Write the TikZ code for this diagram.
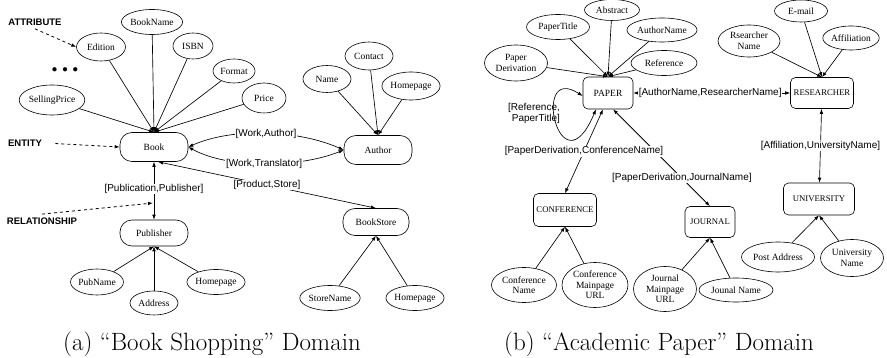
\documentclass[tikz,border=0pt]{standalone}
\usepackage{fontspec}
\newfontfamily\serfont{Liberation Serif}
\newfontfamily\labfont{Liberation Sans}
\usetikzlibrary{arrows.meta, shapes.geometric, positioning}

\begin{document}
\begin{tikzpicture}[x=1pt, y=-1pt,
  attr/.style 2 args={draw, ellipse, inner sep=0pt, align=center, line width=0.6pt,
    minimum width=#1, minimum height=#2, font=\serfont\fontsize{9.5}{10.5}\selectfont},
  entity/.style={draw, rounded corners=12pt, inner sep=0pt, line width=0.6pt,
    minimum width=68pt, font=\serfont\fontsize{9.5}{10.5}\selectfont},
  entbox/.style 2 args={draw, rounded corners=5pt, inner sep=0pt, line width=0.6pt,
    minimum width=#1, minimum height=#2, font=\serfont\fontsize{8.7}{10}\selectfont},
  link/.style={-{Latex[length=5pt,width=3.6pt]}, line width=0.65pt},
  rel/.style={{Latex[length=5pt,width=3.6pt]}-{Latex[length=5pt,width=3.6pt]}, line width=0.65pt},
  rellab/.style={fill=white, inner sep=0.6pt, font=\labfont\fontsize{10}{11}\selectfont, align=center},
  notelab/.style={font=\labfont\bfseries\fontsize{9.5}{10}\selectfont},
  pointer/.style={dashed, -{Latex[length=5pt,width=3.6pt]}, line width=0.8pt}
]
  \useasboundingbox (0,0) rectangle (887,358);

  % (a) book shopping: entities
  \node[entity, minimum height=29pt] (book) at (154,147) {Book};
  \node[entity, minimum height=29pt] (author) at (378,150) {Author};
  \node[entity, minimum height=26pt] (publisher) at (154,233) {Publisher};
  \node[entity, minimum width=66pt, minimum height=27pt] (bookstore) at (376,222) {BookStore};

  % attributes of Book
  \node[attr={49pt}{28pt}] (edition) at (101,47) {Edition};
  \node[attr={52pt}{25pt}] (bookname) at (152,22) {BookName};
  \node[attr={40pt}{26pt}] (isbn) at (193,46) {ISBN};
  \node[attr={42pt}{24pt}] (format) at (234,71) {Format};
  \node[attr={44pt}{30pt}] (price) at (264,98) {Price};
  \node[attr={51pt}{30pt}] (sellprice) at (52,100) {SellingPrice};
  \node[font=\fontsize{11}{12}\selectfont] (dots) at (65,70) {$\bullet$\hspace{5pt}$\bullet$\hspace{5pt}$\bullet$};
  \foreach \a in {edition, bookname, isbn, format, price, sellprice}
    \draw[link] (\a) -- (book.north);

  % attributes of Author
  \node[attr={48pt}{27pt}] (name) at (327,79) {Name};
  \node[attr={48pt}{28pt}] (contact) at (369,56) {Contact};
  \node[attr={51pt}{28pt}] (authhome) at (411,86) {Homepage};
  \foreach \a in {name, contact, authhome}
    \draw[link] (\a) -- (author.north);

  % attributes of Publisher
  \node[attr={44pt}{26pt}] (pubname) at (97,282) {PubName};
  \node[attr={48pt}{24pt}] (address) at (154,303) {Address};
  \node[attr={51pt}{25pt}] (pubhome) at (216,282) {Homepage};
  \foreach \a in {pubname, address, pubhome}
    \draw[link] (\a) -- (publisher.south);

  % attributes of BookStore
  \node[attr={48pt}{25pt}] (storename) at (330,298) {StoreName};
  \node[attr={47pt}{25pt}] (storehome) at (415,298) {Homepage};
  \foreach \a in {storename, storehome}
    \draw[link] (\a) -- (bookstore.south);

  % relationships
  \draw[rel] (book.east) .. controls +(45,-20) and +(-45,-20) .. (author.west)
    node[rellab, pos=0.5] {[Work,Author]};
  \draw[rel] (book.east) .. controls +(40,22) and +(-45,18) .. (author.west)
    node[rellab, pos=0.5] {[Work,Translator]};
  \draw[rel] ([xshift=4pt]book.south) -- (bookstore.north)
    node[rellab, pos=0.5] {[Product,Store]};
  \draw[rel] (book.south) -- (publisher.north)
    node[rellab, pos=0.47] {[Publication,Publisher]};
  \coordinate (relpt) at (153,203);

  % legend
  \node[notelab] (attrnote) at (35,22) {ATTRIBUTE};
  \node[notelab] (entnote) at (25,143) {ENTITY};
  \node[notelab] (relnote) at (42,221) {RELATIONSHIP};
  \draw[pointer] (attrnote.south) -- (edition.west);
  \draw[pointer, shorten <=10pt] (entnote.east) -- (book.west);
  \draw[pointer] (relnote.north) -- (relpt);

  % (b) academic paper: entities
  \node[entbox={50pt}{32pt}, font=\serfont\fontsize{9.5}{10}\selectfont] (paper) at (608,93) {PAPER};
  \node[entbox={63pt}{31pt}] (researcher) at (822,93) {RESEARCHER};
  \node[entbox={71pt}{32pt}] (university) at (819,199) {UNIVERSITY};
  \node[entbox={63pt}{33pt}] (conference) at (565,210) {CONFERENCE};
  \node[entbox={50pt}{31pt}] (journal) at (710,222) {JOURNAL};

  % attributes of PAPER
  \node[attr={55pt}{21pt}] (abstract) at (612,10) {Abstract};
  \node[attr={63pt}{25pt}] (papertitle) at (558,27) {PaperTitle};
  \node[attr={68pt}{24pt}] (authorname) at (662,30) {AuthorName};
  \node[attr={63pt}{36pt}] (paperderiv) at (516,63) {Paper\\Derivation};
  \node[attr={66pt}{25pt}] (reference) at (664,63) {Reference};
  \foreach \a in {abstract, papertitle, authorname, paperderiv, reference}
    \draw[link] (\a) -- (paper.north);

  % attributes of RESEARCHER
  \node[attr={62pt}{32pt}] (rname) at (749,41) {Rsearcher\\Name};
  \node[attr={53pt}{22pt}] (email) at (801,11) {E-mail};
  \node[attr={56pt}{24pt}] (affiliation) at (851,38) {Affiliation};
  \foreach \a in {rname, email, affiliation}
    \draw[link] (\a) -- (researcher.north);

  % attributes of UNIVERSITY
  \node[attr={73pt}{30pt}] (postaddr) at (778,257) {Post Address};
  \node[attr={63pt}{37pt}] (uniname) at (852,258) {University\\Name};
  \foreach \a in {postaddr, uniname}
    \draw[link] (\a) -- (university.south);

  % attributes of CONFERENCE and JOURNAL
  \node[attr={65pt}{35pt}] (confname) at (524,285) {Conference\\Name};
  \node[attr={66pt}{45pt}] (confurl) at (595,285) {Conference\\Mainpage\\URL};
  \node[attr={63pt}{45pt}] (journurl) at (665,289) {Journal\\Mainpage\\URL};
  \node[attr={74pt}{24pt}] (journname) at (736,290) {Jounal Name};
  \foreach \a in {confname, confurl}
    \draw[link] (\a) -- (conference.south);
  \foreach \a in {journurl, journname}
    \draw[link] (\a) -- (journal.south);

  % relationships
  \draw[rel] ([yshift=-3pt]paper.west) .. controls (530,62) and (560,195) .. ([xshift=-12pt]paper.south);
  \node[rellab, fill=none, align=right] (refnote) at (534,113) {[Reference,\\PaperTitle]};
  \draw[rel] (paper) -- (researcher)
    node[rellab, pos=0.49] {[AuthorName,ResearcherName]};
  \draw[rel] (researcher) -- (university)
    node[rellab, pos=0.5] {[Affiliation,UniversityName]};
  \draw[rel, thick] ([xshift=5pt]paper.south) -- (journal.north)
    node[rellab, pos=0.71] {[PaperDerivation,JournalName]};
  \draw[rel] ([xshift=-5pt]paper.south) -- (conference.north)
    node[rellab, pos=0.5] {[PaperDerivation,ConferenceName]};

  % captions
  \node[font=\fontsize{25}{29}\selectfont] (capa) at (212,344) {(a)\ “Book Shopping” Domain};
  \node[font=\fontsize{25}{29}\selectfont] (capb) at (659,344) {(b)\ “Academic Paper” Domain};
\end{tikzpicture}
\end{document}
